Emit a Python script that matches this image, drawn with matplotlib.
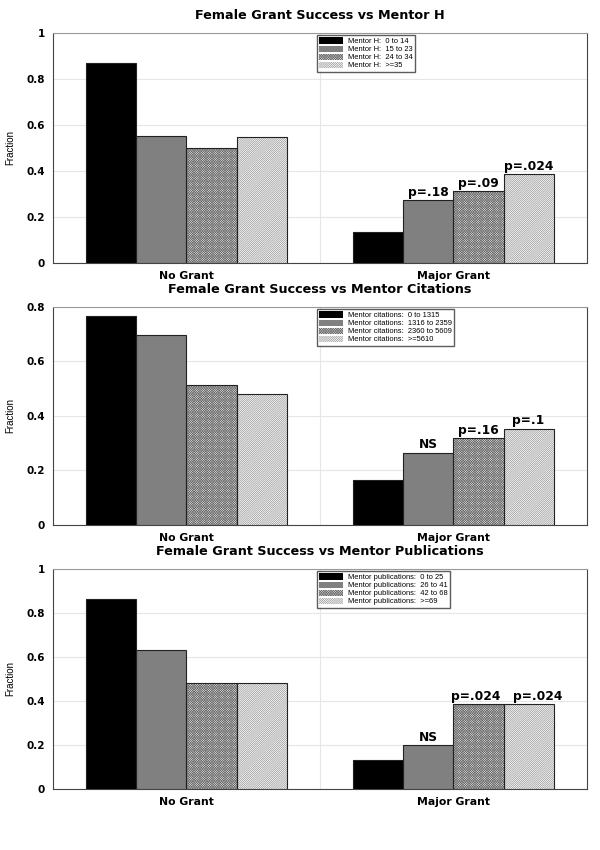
import numpy as np
from matplotlib import pyplot as plt

plt.rcParams['font.family'] = ['DejaVu Sans']
plt.rcParams['hatch.linewidth'] = 0.45

# Datos
grupos = ['No Grant', 'Major Grant']

titulo_h = 'Female Grant Success vs Mentor H'
leyenda_h = ['Mentor H:  0 to 14', 'Mentor H:  15 to 23', 'Mentor H:  24 to 34', 'Mentor H:  >=35']
valores_h = [[0.87, 0.552, 0.50, 0.548],
             [0.135, 0.274, 0.312, 0.387]]
pvals_h = ['', 'p=.18', 'p=.09', 'p=.024']
ymax_h = 1.0

titulo_c = 'Female Grant Success vs Mentor Citations'
leyenda_c = ['Mentor citations:  0 to 1315', 'Mentor citations:  1316 to 2359',
             'Mentor citations:  2360 to 5609', 'Mentor citations:  >=5610']
valores_c = [[0.765, 0.697, 0.514, 0.482],
             [0.165, 0.265, 0.319, 0.353]]
pvals_c = ['', 'NS', 'p=.16', 'p=.1']
ymax_c = 0.8

titulo_p = 'Female Grant Success vs Mentor Publications'
leyenda_p = ['Mentor publications:  0 to 25', 'Mentor publications:  26 to 41',
             'Mentor publications:  42 to 68', 'Mentor publications:  >=69']
valores_p = [[0.864, 0.632, 0.48, 0.48],
             [0.132, 0.20, 0.386, 0.386]]
pvals_p = ['', 'NS', 'p=.024', 'p=.024']
ymax_p = 1.0

# Estilos de las barras
colores = ['black', '#808080', '#e4e4e4', 'white']
tramas = ['', '', 'xxxxxxxxxxxxxx', '////////////////']
color_trama = ['black', '#808080', '#6a6a6a', '#8a8a8a']

fig = plt.figure(figsize=(6, 8.5), dpi=100)
posiciones = [[0.0883, 0.6906, 0.89, 0.2706],
              [0.0883, 0.3824, 0.89, 0.2565],
              [0.0883, 0.0718, 0.89, 0.2588]]

def panel(pos, titulo, leyenda, valores, pvals, ymax, desplaz=(0, 0, 0, 0)):
    ax = fig.add_axes(pos)
    ancho = 0.1875
    x = np.array([0.5, 1.5])
    for i in range(4):
        alturas = [valores[0][i], valores[1][i]]
        xs = x + (i - 1.5) * ancho
        # relleno con trama (el color de la trama sale del edgecolor)
        ax.bar(xs, alturas, ancho, color=colores[i], hatch=tramas[i],
               edgecolor=color_trama[i], linewidth=0, zorder=3)
        # contorno
        ax.bar(xs, alturas, ancho, fill=False, edgecolor='#222222', linewidth=0.8, zorder=3.5)
        # entrada de leyenda
        ax.bar([0], [0], 0, color=colores[i], hatch=tramas[i], edgecolor=color_trama[i],
               linewidth=0, label=leyenda[i])
        if pvals[i]:
            ax.text(xs[1] + desplaz[i], alturas[1] + ymax * 0.006, pvals[i], ha='center',
                    va='bottom', fontsize=8.8, fontweight='bold', zorder=4)
    ax.set_xlim(0, 2)
    ax.set_ylim(0, ymax)
    ax.set_yticks(np.arange(0, ymax + 0.01, 0.2))
    ax.set_yticklabels(['%g' % v for v in np.arange(0, ymax + 0.01, 0.2)],
                       fontsize=7.5, fontweight='bold')
    ax.set_xticks(x)
    ax.set_xticklabels(grupos, fontsize=7.8, fontweight='bold')
    ax.tick_params(length=0, pad=6)
    ax.yaxis.grid(True, color='#e6e6e6', linewidth=0.8, zorder=0)
    ax.axvline(1.0, color='#e6e6e6', linewidth=0.8, zorder=0)
    for lado in ['left', 'bottom', 'right']:
        ax.spines[lado].set_color('#444444')
    ax.spines['top'].set_color('#999999')
    ax.set_ylabel('Fraction', fontsize=7, family=['Liberation Sans Narrow', 'Liberation Sans'],
                  labelpad=8)
    ax.set_title(titulo, fontsize=9.2, fontweight='bold', pad=10)
    ax.legend(loc='upper left', bbox_to_anchor=(0.49, 1.0),
              prop={'family': 'Liberation Sans', 'size': 5.4}, frameon=True,
              fancybox=False, edgecolor='#333333', handlelength=3.2, handleheight=0.9,
              labelspacing=0.05, borderpad=0.3, handletextpad=0.6, borderaxespad=0.3)
    return ax

panel(posiciones[0], titulo_h, leyenda_h, valores_h, pvals_h, ymax_h)
panel(posiciones[1], titulo_c, leyenda_c, valores_c, pvals_c, ymax_c)
panel(posiciones[2], titulo_p, leyenda_p, valores_p, pvals_p, ymax_p,
      desplaz=(0, 0, -0.01, 0.035))

fig.savefig('out.png', dpi=100)
